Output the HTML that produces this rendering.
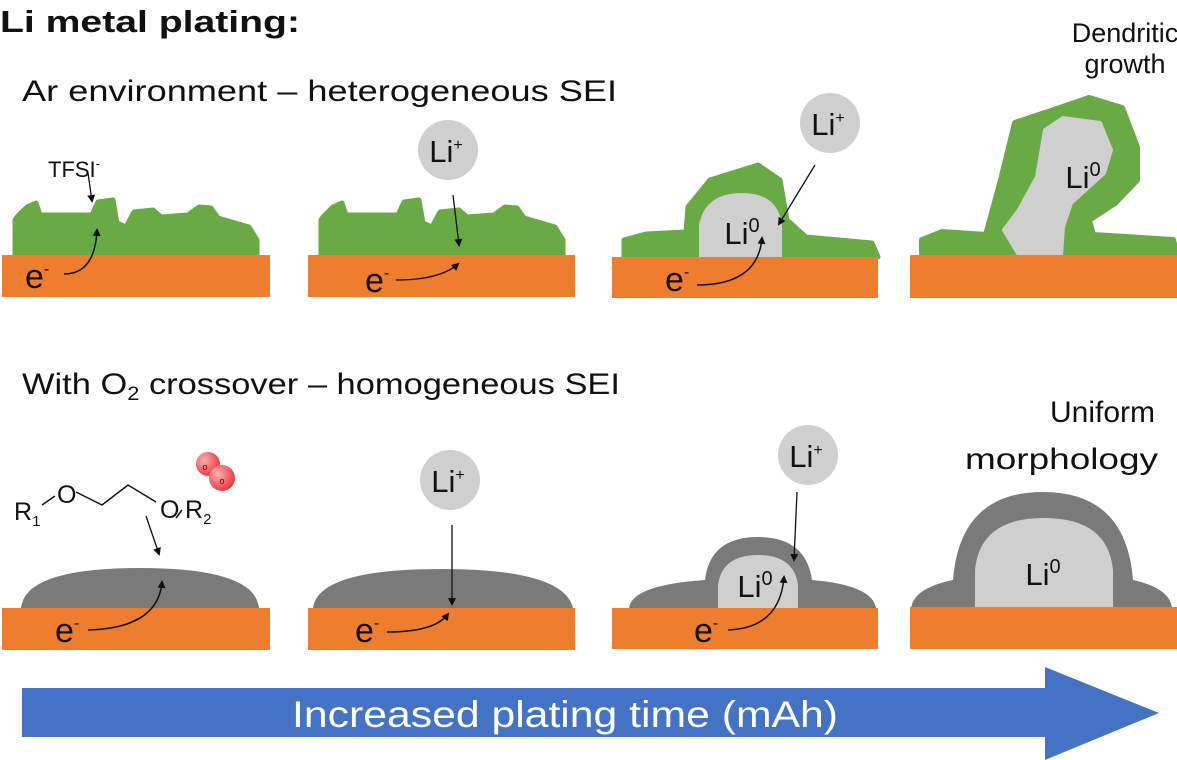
<!DOCTYPE html>
<html><head><meta charset="utf-8"><style>
html,body{margin:0;padding:0;background:#fff;}
svg{display:block;font-family:"Liberation Sans",sans-serif;}
</style></head><body>
<svg width="1177" height="760" viewBox="0 0 1177 760" xmlns="http://www.w3.org/2000/svg">
<defs>
<marker id="ah" markerWidth="8" markerHeight="8" refX="6" refY="4" orient="auto" markerUnits="userSpaceOnUse"><path d="M0,0 L8,4 L0,8 z" fill="#111"/></marker>
<radialGradient id="rg" cx="35%" cy="35%" r="70%"><stop offset="0" stop-color="#ffb0b0"/><stop offset="1" stop-color="#e8343a"/></radialGradient>
</defs>
<!-- titles -->
<text x="0" y="32" font-size="31" font-weight="bold" fill="#111" textLength="300" lengthAdjust="spacingAndGlyphs">Li metal plating:</text>
<text x="22" y="101" font-size="30" fill="#111" textLength="595" lengthAdjust="spacingAndGlyphs">Ar environment – heterogeneous SEI</text>
<text x="1125" y="42" font-size="27" fill="#111" text-anchor="middle">Dendritic</text>
<text x="1125" y="73" font-size="27" fill="#111" text-anchor="middle">growth</text>
<text x="22" y="394" font-size="30" fill="#111" textLength="598" lengthAdjust="spacingAndGlyphs">With O<tspan font-size="19" dy="6">2</tspan><tspan dy="-6"> crossover – homogeneous SEI</tspan></text>
<text x="1050" y="422" font-size="30" fill="#111" textLength="105" lengthAdjust="spacingAndGlyphs">Uniform</text>
<text x="965" y="469" font-size="30" fill="#111" textLength="193" lengthAdjust="spacingAndGlyphs">morphology</text>

<!-- TOP ROW -->
<g id="p1">
<path d="M15,255 L15,220 L17,217 L27,207 L36,203 L40,215 L92,215 L98,202 L113,200 L117,223 L126,227 L134,212 L153,210 L161,217 L188,215 L199,207 L211,208 L218,218 L249,227 L257,240 L257,255 Z" fill="#6aaa45" stroke="#6aaa45" stroke-width="5" stroke-linejoin="round"/>
</g>
<rect x="2" y="255" width="268" height="42" fill="#ef7d2e"/>
<text x="48" y="177" font-size="22" fill="#111">TFSI<tspan font-size="13" dy="-9">-</tspan></text>
<line x1="88" y1="173" x2="92" y2="201" stroke="#111" stroke-width="1.3" marker-end="url(#ah)"/>
<text x="25" y="288" font-size="34" fill="#111">e<tspan font-size="16" dy="-14">-</tspan></text>
<path d="M64,274 Q95,274 97,230" fill="none" stroke="#111" stroke-width="1.5" marker-end="url(#ah)"/>

<use href="#p1" x="306"/>
<rect x="308" y="255" width="267" height="42" fill="#ef7d2e"/>
<circle cx="448" cy="150" r="30" fill="#cfcfcf"/>
<text x="446" y="162" font-size="31" fill="#111" text-anchor="middle">Li<tspan font-size="16" dy="-12">+</tspan></text>
<line x1="453" y1="195" x2="459" y2="245" stroke="#111" stroke-width="1.3" marker-end="url(#ah)"/>
<text x="365" y="292" font-size="34" fill="#111">e<tspan font-size="16" dy="-14">-</tspan></text>
<path d="M396,280 Q440,280 458,264" fill="none" stroke="#111" stroke-width="1.5" marker-end="url(#ah)"/>

<path d="M624,257 L624,240 L646,234 L686,232 L688,207 L710,180 L758,165 L780,180 L787,220 L806,237 L872,243 L878,257 Z" fill="#6aaa45" stroke="#6aaa45" stroke-width="5" stroke-linejoin="round"/>
<path d="M699,257 L699,225 Q705,193 742,193 Q778,193 782,225 L782,257 Z" fill="#cfcfcf"/>
<rect x="612" y="257" width="266" height="41" fill="#ef7d2e"/>
<circle cx="830" cy="123" r="30" fill="#cfcfcf"/>
<text x="828" y="135" font-size="31" fill="#111" text-anchor="middle">Li<tspan font-size="16" dy="-12">+</tspan></text>
<line x1="815" y1="165" x2="779" y2="224" stroke="#111" stroke-width="1.3" marker-end="url(#ah)"/>
<text x="742" y="244" font-size="31" fill="#111" text-anchor="middle">Li<tspan font-size="20" dy="-12">0</tspan></text>
<text x="665" y="291" font-size="34" fill="#111">e<tspan font-size="16" dy="-14">-</tspan></text>
<path d="M697,285 Q758,285 762,238" fill="none" stroke="#111" stroke-width="1.5" marker-end="url(#ah)"/>

<path d="M922,255 L922,240 L942,232 L986,235 L1001,180 L1015,123 L1060,108 L1089,98 L1122,108 L1137,147 L1137,180 L1115,203 L1089,220 L1093,235 L1173,240 L1177,255 Z" fill="#6aaa45" stroke="#6aaa45" stroke-width="6" stroke-linejoin="round"/>
<path d="M1019,255 L1004,230 L1019,210 L1037,177 L1045,130 L1063,118 L1100,123 L1111,150 L1104,173 L1071,203 L1063,227 L1061,255 Z" fill="#cfcfcf" stroke="#cfcfcf" stroke-width="4" stroke-linejoin="round"/>
<rect x="910" y="255" width="267" height="43" fill="#ef7d2e"/>
<text x="1083" y="188" font-size="31" fill="#111" text-anchor="middle">Li<tspan font-size="20" dy="-12">0</tspan></text>

<!-- BOTTOM ROW -->
<path d="M21,608 Q25,568 140,568 Q255,568 259,608 Z" fill="#7a7a7a"/>
<rect x="2" y="608" width="268" height="42" fill="#ef7d2e"/>
<circle cx="208" cy="464" r="12" fill="url(#rg)"/>
<circle cx="222" cy="478" r="13" fill="url(#rg)"/>
<text x="205" y="470" font-size="9" fill="#600" text-anchor="middle">o</text>
<text x="222" y="484" font-size="9" fill="#600" text-anchor="middle">o</text>
<text x="14" y="520" font-size="25" fill="#111">R<tspan font-size="15" dy="6">1</tspan></text>
<text x="57" y="503" font-size="25" fill="#111">O</text>
<text x="160" y="518" font-size="25" fill="#111">O</text>
<text x="185" y="518" font-size="25" fill="#111">R<tspan font-size="15" dy="6">2</tspan></text>
<path d="M42,505 L55,496 M76,492 L102,505 L128,485 L156,502 M176,518 L182,510" fill="none" stroke="#111" stroke-width="1.5"/>
<line x1="146" y1="516" x2="159" y2="554" stroke="#111" stroke-width="1.3" marker-end="url(#ah)"/>
<text x="55" y="642" font-size="34" fill="#111">e<tspan font-size="16" dy="-14">-</tspan></text>
<path d="M88,630 Q158,628 162,582" fill="none" stroke="#111" stroke-width="1.5" marker-end="url(#ah)"/>

<path d="M313,608 Q318,569 441,569 Q564,569 573,608 Z" fill="#7a7a7a"/>
<rect x="308" y="608" width="267" height="42" fill="#ef7d2e"/>
<circle cx="450" cy="480" r="30" fill="#cfcfcf"/>
<text x="448" y="492" font-size="31" fill="#111" text-anchor="middle">Li<tspan font-size="16" dy="-12">+</tspan></text>
<line x1="452" y1="525" x2="452" y2="604" stroke="#111" stroke-width="1.3" marker-end="url(#ah)"/>
<text x="355" y="642" font-size="34" fill="#111">e<tspan font-size="16" dy="-14">-</tspan></text>
<path d="M387,632 Q435,632 448,614" fill="none" stroke="#111" stroke-width="1.5" marker-end="url(#ah)"/>

<path d="M629,608 Q632,585 705,580 Q710,537 758,537 Q806,537 812,580 Q872,585 876,608 Z" fill="#7a7a7a"/>
<path d="M718,608 L718,585 Q722,555 758,555 Q794,555 798,585 L798,608 Z" fill="#cfcfcf"/>
<rect x="612" y="608" width="266" height="41" fill="#ef7d2e"/>
<circle cx="808" cy="455" r="30" fill="#cfcfcf"/>
<text x="806" y="467" font-size="31" fill="#111" text-anchor="middle">Li<tspan font-size="16" dy="-12">+</tspan></text>
<line x1="797" y1="492" x2="794" y2="560" stroke="#111" stroke-width="1.3" marker-end="url(#ah)"/>
<text x="755" y="597" font-size="31" fill="#111" text-anchor="middle">Li<tspan font-size="20" dy="-12">0</tspan></text>
<text x="694" y="642" font-size="34" fill="#111">e<tspan font-size="16" dy="-14">-</tspan></text>
<path d="M728,630 Q780,628 784,577" fill="none" stroke="#111" stroke-width="1.5" marker-end="url(#ah)"/>

<path d="M911,608 Q914,588 953,580 Q960,492 1043,492 Q1126,492 1133,580 Q1170,588 1172,608 Z" fill="#7a7a7a"/>
<path d="M975,608 L975,570 Q980,518 1044,518 Q1108,518 1113,570 L1113,608 Z" fill="#cfcfcf"/>
<rect x="910" y="607" width="267" height="42" fill="#ef7d2e"/>
<text x="1043" y="585" font-size="31" fill="#111" text-anchor="middle">Li<tspan font-size="20" dy="-12">0</tspan></text>

<!-- big arrow -->
<path d="M22,688 L1045,688 L1045,667 L1159,713 L1045,760 L1045,737 L22,737 Z" fill="#4472c4"/>
<text x="292" y="727" font-size="37" fill="#fff" textLength="546" lengthAdjust="spacingAndGlyphs">Increased plating time (mAh)</text>
</svg>
</body></html>
